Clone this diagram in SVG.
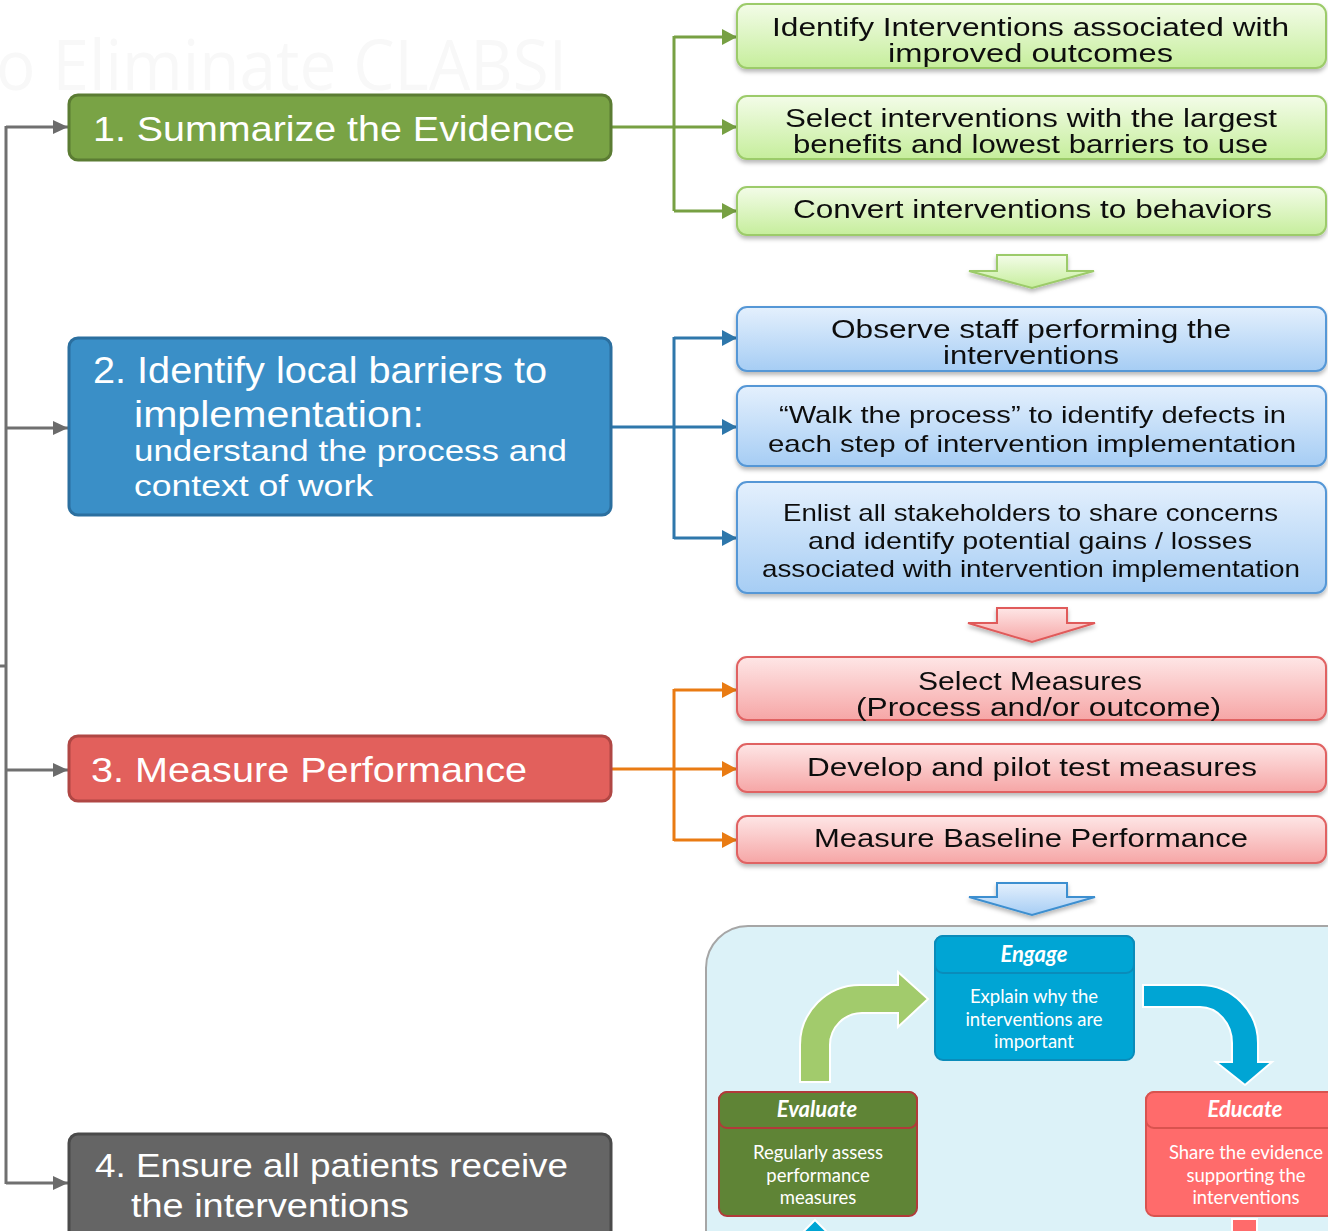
<svg xmlns="http://www.w3.org/2000/svg" width="1328" height="1231" viewBox="0 0 1328 1231">
  <defs>
    <linearGradient id="gGreen" x1="0" y1="0" x2="0" y2="1">
      <stop offset="0" stop-color="#f3fce8"/>
      <stop offset="1" stop-color="#c6ee9c"/>
    </linearGradient>
    <linearGradient id="gBlue" x1="0" y1="0" x2="0" y2="1">
      <stop offset="0" stop-color="#e4f0fd"/>
      <stop offset="1" stop-color="#a6cdf4"/>
    </linearGradient>
    <linearGradient id="gRed" x1="0" y1="0" x2="0" y2="1">
      <stop offset="0" stop-color="#fee6e6"/>
      <stop offset="1" stop-color="#f6a6a6"/>
    </linearGradient>
    <filter id="shadow" x="-5%" y="-20%" width="110%" height="150%">
      <feDropShadow dx="0" dy="3" stdDeviation="2" flood-color="#000" flood-opacity="0.28"/>
    </filter>
    <marker id="aGray" markerWidth="16" markerHeight="16" refX="15" refY="8" orient="auto" markerUnits="userSpaceOnUse">
      <path d="M0,1 L15,8 L0,15 z" fill="#6b6b6b"/>
    </marker>
    <marker id="aGreen" markerWidth="16" markerHeight="18" refX="15" refY="9" orient="auto" markerUnits="userSpaceOnUse">
      <path d="M0,1 L15,9 L0,17 z" fill="#77a043"/>
    </marker>
    <marker id="aBlue" markerWidth="16" markerHeight="18" refX="15" refY="9" orient="auto" markerUnits="userSpaceOnUse">
      <path d="M0,1 L15,9 L0,17 z" fill="#2e77ab"/>
    </marker>
    <marker id="aOrange" markerWidth="16" markerHeight="18" refX="15" refY="9" orient="auto" markerUnits="userSpaceOnUse">
      <path d="M0,1 L15,9 L0,17 z" fill="#e97b13"/>
    </marker>
  </defs>
  <style>
    .main { font-family: "Liberation Sans", Arial, sans-serif; fill: #ffffff; }
    .sub { font-family: "Liberation Sans", Arial, sans-serif; fill: #111111; font-size: 25px; }
    .sub25 { font-family: "Liberation Sans", Arial, sans-serif; fill: #111111; font-size: 24px; }
    .wire { fill: none; stroke-width: 3; }
    .gray { stroke: #707070; }
    .grn { stroke: #77a043; }
    .blu { stroke: #2e77ab; }
    .org { stroke: #e97b13; }
    .boxG { fill: url(#gGreen); stroke: #9ccb6a; stroke-width: 2; }
    .boxB { fill: url(#gBlue); stroke: #5597d6; stroke-width: 2; }
    .boxR { fill: url(#gRed); stroke: #e06262; stroke-width: 2; }
    .cyc { font-family: Lato, "Open Sans", sans-serif; fill: #ffffff; text-anchor: middle; }
    .head { font-size: 22px; font-weight: bold; font-style: italic; }
    .body { font-size: 18.5px; }
  </style>

  <rect width="1328" height="1231" fill="#ffffff"/>

  <!-- faint title remnant in the background -->
  <text x="-4" y="90" font-family="'Open Sans', 'Liberation Sans', sans-serif" font-size="70" fill="#f8f8f8" textLength="571" lengthAdjust="spacingAndGlyphs">o Eliminate CLABSI</text>

  <!-- connectors -->
  <g id="connectors">
    <path class="wire gray" d="M6,126 V1184"/>
    <path class="wire gray" d="M0,666 H6"/>
    <path class="wire gray" d="M6,127 H68" marker-end="url(#aGray)"/>
    <path class="wire gray" d="M6,428 H68" marker-end="url(#aGray)"/>
    <path class="wire gray" d="M6,770 H68" marker-end="url(#aGray)"/>
    <path class="wire gray" d="M6,1183 H68" marker-end="url(#aGray)"/>

    <path class="wire grn" d="M611,127 H674 M674,36 V211"/>
    <path class="wire grn" d="M674,37 H737" marker-end="url(#aGreen)"/>
    <path class="wire grn" d="M674,127 H737" marker-end="url(#aGreen)"/>
    <path class="wire grn" d="M674,211 H737" marker-end="url(#aGreen)"/>

    <path class="wire blu" d="M611,427 H674 M674,337 V539"/>
    <path class="wire blu" d="M674,338 H737" marker-end="url(#aBlue)"/>
    <path class="wire blu" d="M674,427 H737" marker-end="url(#aBlue)"/>
    <path class="wire blu" d="M674,538 H737" marker-end="url(#aBlue)"/>

    <path class="wire org" d="M611,769 H674 M674,689 V841"/>
    <path class="wire org" d="M674,690 H737" marker-end="url(#aOrange)"/>
    <path class="wire org" d="M674,769 H737" marker-end="url(#aOrange)"/>
    <path class="wire org" d="M674,840 H737" marker-end="url(#aOrange)"/>
  </g>

  <!-- main steps -->
  <g id="step1">
    <rect x="69" y="95" width="542" height="65" rx="9" fill="#79a345" stroke="#5b7c33" stroke-width="3"/>
    <text class="main" x="93" y="141" font-size="35" textLength="482" lengthAdjust="spacingAndGlyphs">1. Summarize the Evidence</text>
  </g>
  <g id="step2">
    <rect x="69" y="338" width="542" height="177" rx="9" fill="#3a8fc7" stroke="#2b6f9f" stroke-width="3"/>
    <text class="main" x="93" y="383" font-size="36" textLength="454" lengthAdjust="spacingAndGlyphs">2. Identify local barriers to</text>
    <text class="main" x="134" y="427" font-size="36" textLength="290" lengthAdjust="spacingAndGlyphs">implementation:</text>
    <text class="main" x="134" y="461" font-size="30" textLength="433" lengthAdjust="spacingAndGlyphs">understand the process and</text>
    <text class="main" x="134" y="496" font-size="30" textLength="239" lengthAdjust="spacingAndGlyphs">context of work</text>
  </g>
  <g id="step3">
    <rect x="69" y="736" width="542" height="65" rx="9" fill="#e2605c" stroke="#b04744" stroke-width="3"/>
    <text class="main" x="91" y="782" font-size="35" textLength="436" lengthAdjust="spacingAndGlyphs">3. Measure Performance</text>
  </g>
  <g id="step4">
    <rect x="69" y="1134" width="542" height="130" rx="9" fill="#656565" stroke="#4a4a4a" stroke-width="3"/>
    <text class="main" x="95" y="1177" font-size="34" textLength="473" lengthAdjust="spacingAndGlyphs">4. Ensure all patients receive</text>
    <text class="main" x="131" y="1217" font-size="34" textLength="278" lengthAdjust="spacingAndGlyphs">the interventions</text>
  </g>

  <!-- evidence tasks -->
  <g id="evidence1" filter="url(#shadow)">
    <rect class="boxG" x="737" y="4" width="589" height="64" rx="10"/>
    <text class="sub" x="772" y="36" textLength="517" lengthAdjust="spacingAndGlyphs">Identify Interventions associated with</text>
    <text class="sub" x="888" y="62" textLength="285" lengthAdjust="spacingAndGlyphs">improved outcomes</text>
  </g>
  <g id="evidence2" filter="url(#shadow)">
    <rect class="boxG" x="737" y="96" width="589" height="63" rx="10"/>
    <text class="sub" x="785" y="127" textLength="492" lengthAdjust="spacingAndGlyphs">Select interventions with the largest</text>
    <text class="sub" x="793" y="153" textLength="475" lengthAdjust="spacingAndGlyphs">benefits and lowest barriers to use</text>
  </g>
  <g id="evidence3" filter="url(#shadow)">
    <rect class="boxG" x="737" y="187" width="589" height="48" rx="10"/>
    <text class="sub" x="793" y="218" textLength="479" lengthAdjust="spacingAndGlyphs">Convert interventions to behaviors</text>
  </g>
  <g id="downGreen" filter="url(#shadow)">
    <polygon points="997,255 1067,255 1067,271 1094,271 1032,288 969,271 997,271" fill="url(#gGreen)" stroke="#9ccb6a" stroke-width="2"/>
  </g>

  <!-- barrier tasks -->
  <g id="barrier1" filter="url(#shadow)">
    <rect class="boxB" x="737" y="307" width="589" height="64" rx="10"/>
    <text class="sub" x="831" y="338" textLength="400" lengthAdjust="spacingAndGlyphs">Observe staff performing the</text>
    <text class="sub" x="943" y="364" textLength="176" lengthAdjust="spacingAndGlyphs">interventions</text>
  </g>
  <g id="barrier2" filter="url(#shadow)">
    <rect class="boxB" x="737" y="386" width="589" height="80" rx="10"/>
    <text class="sub25" x="779" y="423" textLength="507" lengthAdjust="spacingAndGlyphs">“Walk the process” to identify defects in</text>
    <text class="sub25" x="768" y="452" textLength="528" lengthAdjust="spacingAndGlyphs">each step of intervention implementation</text>
  </g>
  <g id="barrier3" filter="url(#shadow)">
    <rect class="boxB" x="737" y="482" width="589" height="111" rx="10"/>
    <text class="sub25" x="783" y="521" textLength="495" lengthAdjust="spacingAndGlyphs">Enlist all stakeholders to share concerns</text>
    <text class="sub25" x="808" y="549" textLength="444" lengthAdjust="spacingAndGlyphs">and identify potential gains / losses</text>
    <text class="sub25" x="762" y="577" textLength="538" lengthAdjust="spacingAndGlyphs">associated with intervention implementation</text>
  </g>
  <g id="downRed" filter="url(#shadow)">
    <polygon points="997,608 1067,608 1067,623 1095,623 1032,642 968,623 997,623" fill="url(#gRed)" stroke="#e05a5a" stroke-width="2"/>
  </g>

  <!-- measurement tasks -->
  <g id="measure1" filter="url(#shadow)">
    <rect class="boxR" x="737" y="657" width="589" height="63" rx="10"/>
    <text class="sub" x="918" y="690" textLength="224" lengthAdjust="spacingAndGlyphs">Select Measures</text>
    <text class="sub" x="856" y="716" textLength="365" lengthAdjust="spacingAndGlyphs">(Process and/or outcome)</text>
  </g>
  <g id="measure2" filter="url(#shadow)">
    <rect class="boxR" x="737" y="744" width="589" height="48" rx="10"/>
    <text class="sub" x="807" y="776" textLength="450" lengthAdjust="spacingAndGlyphs">Develop and pilot test measures</text>
  </g>
  <g id="measure3" filter="url(#shadow)">
    <rect class="boxR" x="737" y="816" width="589" height="47" rx="10"/>
    <text class="sub" x="814" y="847" textLength="434" lengthAdjust="spacingAndGlyphs">Measure Baseline Performance</text>
  </g>
  <g id="downBlue" filter="url(#shadow)">
    <polygon points="997,883 1067,883 1067,897 1095,897 1032,915 969,897 997,897" fill="url(#gBlue)" stroke="#3d8fd0" stroke-width="2"/>
  </g>

  <!-- engage / educate / evaluate cycle -->
  <g id="cyclePanel">
    <rect x="706" y="926" width="700" height="400" rx="42" fill="#dcf2f8" stroke="#a6a6a6" stroke-width="2"/>
  </g>
  <g id="cycleArrows">
    <path d="M800,1082 V1045 A60,60 0 0 1 860,985 H898 V972 L928,999 L898,1027 V1013 H862 A32,32 0 0 0 830,1045 V1082 Z" fill="#a2cb6c" stroke="#ffffff" stroke-width="2"/>
    <path d="M1143,985 H1200 A58,58 0 0 1 1258,1043 V1062 H1272 L1245,1085 L1216,1062 H1232 V1043 A32,36 0 0 0 1200,1007 H1143 Z" fill="#00a5d4" stroke="#ffffff" stroke-width="2"/>
    <path d="M815,1220 L842,1247 L788,1247 Z" fill="#00a5d4" stroke="#ffffff" stroke-width="2"/>
    <rect x="1232" y="1219" width="25" height="30" fill="#ff6b6b" stroke="#ffffff" stroke-width="2"/>
  </g>
  <g id="engage">
    <rect x="935" y="936" width="199" height="124" rx="8" fill="#00a5d4" stroke="#0a8cba" stroke-width="2"/>
    <rect x="935" y="936" width="199" height="37" rx="8" fill="#00a5d4" stroke="#0a8cba" stroke-width="2"/>
    <text class="cyc head" x="1034" y="962">Engage</text>
    <text class="cyc body" x="1034" y="1003">Explain why the</text>
    <text class="cyc body" x="1034" y="1026">interventions are</text>
    <text class="cyc body" x="1034" y="1048">important</text>
  </g>
  <g id="evaluate">
    <rect x="719" y="1092" width="198" height="124" rx="8" fill="#5f8436" stroke="#b23a3a" stroke-width="2"/>
    <rect x="719" y="1092" width="198" height="36" rx="8" fill="#5f8436" stroke="#b23a3a" stroke-width="2"/>
    <text class="cyc head" x="817" y="1117">Evaluate</text>
    <text class="cyc body" x="818" y="1159">Regularly assess</text>
    <text class="cyc body" x="818" y="1182">performance</text>
    <text class="cyc body" x="818" y="1204">measures</text>
  </g>
  <g id="educate">
    <rect x="1146" y="1092" width="200" height="124" rx="8" fill="#ff6b6b" stroke="#d9534f" stroke-width="2"/>
    <rect x="1146" y="1092" width="200" height="36" rx="8" fill="#ff6b6b" stroke="#d9534f" stroke-width="2"/>
    <text class="cyc head" x="1245" y="1117">Educate</text>
    <text class="cyc body" x="1246" y="1159">Share the evidence</text>
    <text class="cyc body" x="1246" y="1182">supporting the</text>
    <text class="cyc body" x="1246" y="1204">interventions</text>
  </g>
</svg>
